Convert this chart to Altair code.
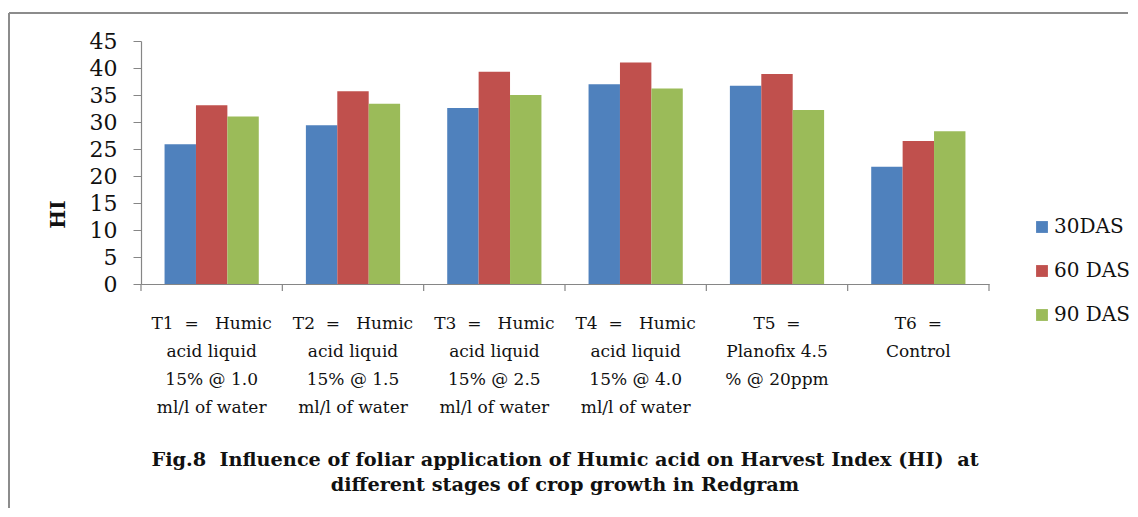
import altair as alt
import pandas as pd

categories = [
    "T1\u00a0\u00a0=\u00a0\u00a0\u00a0Humic|acid liquid|15%\u00a0@ 1.0|ml/l of water",
    "T2\u00a0\u00a0=\u00a0\u00a0\u00a0Humic|acid liquid|15%\u00a0@ 1.5|ml/l of water",
    "T3\u00a0\u00a0=\u00a0\u00a0\u00a0Humic|acid liquid|15%\u00a0@ 2.5|ml/l of water",
    "T4\u00a0\u00a0=\u00a0\u00a0\u00a0Humic|acid liquid|15%\u00a0@ 4.0|ml/l of water",
    "T5\u00a0\u00a0=|Planofix 4.5|%\u00a0@ 20ppm",
    "T6\u00a0\u00a0=|Control",
]
series = ["30DAS", "60 DAS", "90 DAS"]
das30 = [25.9, 29.4, 32.6, 37.0, 36.7, 21.7]
das60 = [33.1, 35.7, 39.3, 41.0, 38.9, 26.5]
das90 = [31.0, 33.4, 35.0, 36.2, 32.2, 28.3]
colors = ["#4F81BD", "#C0504D", "#9BBB59"]
y_ticks = [0, 5, 10, 15, 20, 25, 30, 35, 40, 45]
title_lines = [
    "Fig.8\u00a0\u00a0Influence of foliar application of Humic acid on Harvest Index (HI)\u00a0\u00a0at",
    "different stages of crop growth in Redgram",
]

rows = []
for s, vals in zip(series, [das30, das60, das90]):
    for c, v in zip(categories, vals):
        rows.append({"cat": c, "series": s, "HI": v})
df = pd.DataFrame(rows)
cat_df = pd.DataFrame({"cat": categories})

FONT = "DejaVu Serif"
W, H = 848, 243
AX = "#868686"

x_axis = alt.Axis(
    title=None,
    labelExpr="split(datum.label, '|')",
    labelFont=FONT,
    labelFontSize=17,
    labelColor="#111",
    labelLineHeight=28,
    labelPadding=31,
    labelAngle=0,
    labelOverlap=False,
    labelLimit=400,
    labelBaseline="top",
    ticks=False,
    domainColor=AX,
    domainWidth=1.2,
)
x_scale = alt.Scale(paddingInner=0, paddingOuter=0)

bars = alt.Chart(df).mark_bar().encode(
    x=alt.X("cat:N", sort=categories, scale=x_scale, axis=x_axis),
    xOffset=alt.XOffset("series:N", sort=series,
                        scale=alt.Scale(paddingOuter=0.75, paddingInner=0)),
    y=alt.Y("HI:Q", scale=alt.Scale(domain=[0, 45], nice=False),
            axis=alt.Axis(
                title="HI", values=y_ticks, grid=False,
                labelFont=FONT, labelFontSize=22, labelColor="#111",
                labelPadding=16, tickSize=8, tickColor=AX, domainColor=AX,
                domainWidth=1.2,
                titleFont=FONT, titleFontSize=20, titleFontWeight="bold",
                titleColor="#111", titleX=-83, titleY=173,
                titleBaseline="middle", titleAlign="center", titleAngle=270,
            )),
    color=alt.Color("series:N", sort=series,
                    scale=alt.Scale(domain=series, range=colors),
                    legend=alt.Legend(
                        title=None, orient="none", legendX=891, legendY=176,
                        symbolType="square", symbolSize=140,
                        symbolStrokeWidth=0, labelFont=FONT,
                        labelFontSize=20, labelColor="#111",
                        rowPadding=24, labelOffset=2, padding=0)),
)

ticks = alt.Chart(cat_df).mark_rule(color=AX, strokeWidth=1.2).encode(
    x=alt.X("cat:N", sort=categories, scale=x_scale, axis=x_axis, bandPosition=0),
    y=alt.value(H),
    y2=alt.value(H + 7),
)
end_tick = alt.Chart(cat_df.head(1)).mark_rule(color=AX, strokeWidth=1.2).encode(
    x=alt.value(W), y=alt.value(H), y2=alt.value(H + 7)
)

frame_top = alt.Chart(cat_df.head(1)).mark_rule(color="#8c8c8c", strokeWidth=2).encode(
    x=alt.value(-132), x2=alt.value(987), y=alt.value(-28)
)
frame_left = alt.Chart(cat_df.head(1)).mark_rule(color="#8c8c8c", strokeWidth=2).encode(
    x=alt.value(-132), y=alt.value(-28), y2=alt.value(467)
)

chart = alt.layer(bars, ticks, end_tick, frame_top, frame_left).properties(
    width=W, height=H,
    padding={"left": 0, "top": 4, "right": 0, "bottom": 0},
    title=alt.TitleParams(
        text=title_lines, orient="bottom", anchor="middle", frame="group",
        font=FONT, fontSize=19.3, fontWeight="bold", color="#111",
        lineHeight=25, offset=-58,
    ),
).configure_view(stroke=None)

chart.save("out.html", embed_options={"renderer": "svg", "actions": False})
